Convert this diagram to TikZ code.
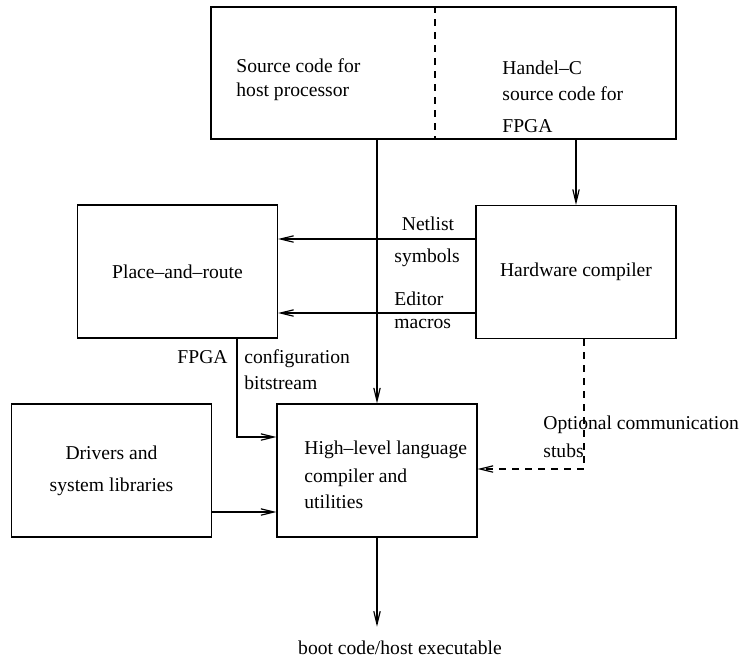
\documentclass[tikz,border=0pt]{standalone}
\usepackage{fontspec}
\setmainfont{Liberation Serif}
\usetikzlibrary{arrows.meta}

\begin{document}
\begin{tikzpicture}[
    x=0.5pt, y=-0.5pt,
    font=\fontsize{9.8}{12}\selectfont,
    box/.style={rectangle, draw, line width=0.6pt, minimum width=100pt, minimum height=66.5pt, inner sep=0pt},
    txt/.style={inner sep=0pt, align=left},
    arrow/.style={-{Straight Barb[length=6.5pt,width=3.2pt]}, line width=0.6pt},
    optline/.style={dash pattern=on 3.5pt off 3pt}
]
\useasboundingbox (0,0) rectangle (745,660);

% Boxes
\node (src) [box, minimum width=232.5pt, minimum height=66pt] at (443.5,73) {};
\node (par) [box] at (177.5,271.5) {Place--and--route};
\node (hwc) [box] at (576,272) {Hardware compiler};
\node (drv) [box, align=center] at (111.5,470.5) {Drivers and\\[4pt]system libraries};
\node (hll) [box] at (377,470.5) {};

% Texts in boxes
\node (srctxt) [txt, anchor=west] at (236,80) {Source code for\\host processor};
\node (hctxt)  [txt, anchor=west] at (502,97) {Handel--C\\[1pt]source code for\\[4pt]FPGA};
\node (hlltxt) [txt, anchor=west] at (304,475) {High--level language\\[2pt]compiler and\\[1pt]utilities};

% Labels
\node (netlbl)  [txt]              at (428,224) {Netlist};
\node (symlbl)  [txt, anchor=west] at (394,258) {symbols};
\node (edlbl)   [txt, anchor=west] at (394,299) {Editor};
\node (maclbl)  [txt, anchor=west] at (394,324) {macros};
\node (fpgalbl) [txt, anchor=east] at (228,357) {FPGA};
\node (cfglbl)  [txt, anchor=west] at (244,370) {configuration\\[1pt]bitstream};
\node (optlbl)  [txt, anchor=west] at (543,437) {Optional communication\\[2pt]stubs};
\node (boot)    [txt, inner ysep=7pt] at (400,648) {boot code/host executable};

% Helper coordinates
\coordinate (divx)  at (435,0);
\coordinate (nety)  at (0,239);
\coordinate (edy)   at (0,313);
\coordinate (fpgay) at (237,437);
\coordinate (drvy)  at (0,512);
\coordinate (opty)  at (584,469);

% Arrows
\draw[optline, line width=0.6pt] (divx |- src.north) -- (divx |- src.south);
\draw[arrow] (src.south -| hll.north) -- (hll.north);
\draw[arrow] (src.south -| hwc.north) -- (hwc.north);
\draw[arrow] (hwc.west |- nety) -- (par.east |- nety);
\draw[arrow] (hwc.west |- edy) -- (par.east |- edy);
\draw[arrow] (par.south -| fpgay) |- (hll.west |- fpgay);
\draw[arrow] (drv.east |- drvy) -- (hll.west |- drvy);
\draw[arrow, optline] (hwc.south -| opty) |- (hll.east |- opty);
\draw[arrow] (hll.south) -- (hll.south |- boot.north);

\end{tikzpicture}
\end{document}
